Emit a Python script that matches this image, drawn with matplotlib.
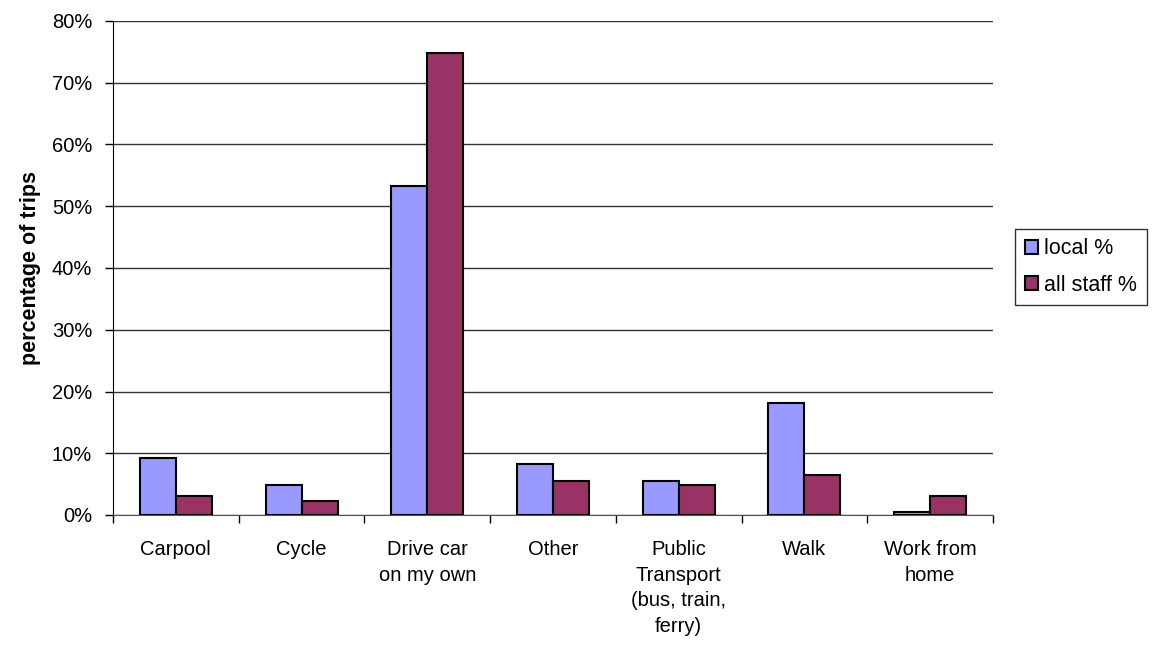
import numpy as np
import matplotlib
matplotlib.use("Agg")
import matplotlib.pyplot as plt
from matplotlib.ticker import FuncFormatter, FixedLocator

plt.rcParams["font.family"] = ["Liberation Sans", "DejaVu Sans"]

categories = ["Carpool", "Cycle", "Drive car\non my own", "Other",
              "Public\nTransport\n(bus, train,\nferry)", "Walk", "Work from\nhome"]
local_pct = [9.2, 4.9, 53.3, 8.3, 5.5, 18.1, 0.5]
all_staff_pct = [3.0, 2.2, 74.8, 5.5, 4.9, 6.4, 3.1]

FS = 14.5

fig = plt.figure(figsize=(11.55, 6.55), dpi=100)
ax = fig.add_axes([113 / 1155, 1 - 515 / 655, 880 / 1155, 494 / 655])

x = np.arange(len(categories))
w = 0.286
ax.bar(x - w / 2, local_pct, w, color="#9999FF", edgecolor="black",
       linewidth=1.5, label="local %", zorder=3)
ax.bar(x + w / 2, all_staff_pct, w, color="#993366", edgecolor="black",
       linewidth=1.5, label="all staff %", zorder=3)

ax.set_xlim(-0.5, len(categories) - 0.5)
ax.set_ylim(0, 80)
ax.set_yticks(np.arange(0, 81, 10))
ax.yaxis.set_major_formatter(FuncFormatter(lambda v, p: f"{v:.0f}%"))
ax.yaxis.grid(True, color="#333333", linewidth=1.0, zorder=0)
ax.set_axisbelow(True)

# category labels centred, ticks on category boundaries
ax.set_xticks(x)
ax.set_xticklabels(categories, fontsize=FS, linespacing=1.45, va="top")
ax.tick_params(axis="x", length=0, pad=18)
ax.xaxis.set_minor_locator(FixedLocator(np.arange(-0.5, len(categories), 1)))
ax.tick_params(axis="x", which="minor", length=6, width=1, color="black")
ax.tick_params(axis="y", length=6, width=1, labelsize=FS, pad=9)

for s in ["top", "right"]:
    ax.spines[s].set_visible(False)
ax.spines["left"].set_color("black")
ax.spines["bottom"].set_color("#555555")

ax.set_ylabel("percentage of trips", fontsize=15.5, fontweight="bold", labelpad=8)

leg = ax.legend(loc="center left", bbox_to_anchor=(1015 / 1155, 1 - 267 / 655),
                bbox_transform=fig.transFigure, fontsize=15.5, frameon=True,
                fancybox=False, edgecolor="black", handlelength=0.6,
                handleheight=0.6, handletextpad=0.3, borderaxespad=0,
                labelspacing=0.7, borderpad=0.45)
leg.get_frame().set_linewidth(1.0)

fig.savefig("out.png", dpi=100)
